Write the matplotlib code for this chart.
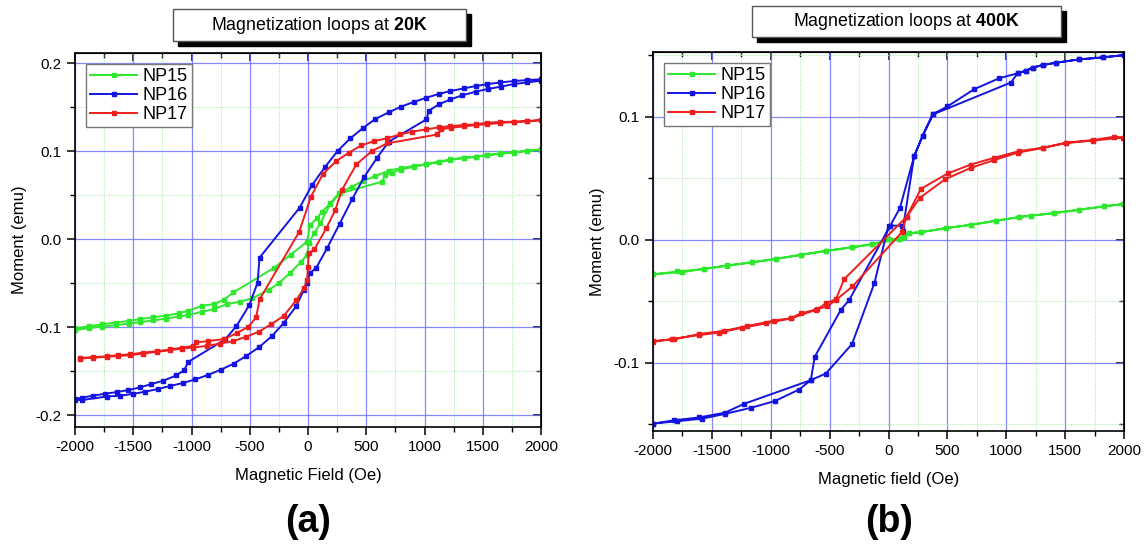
import matplotlib
matplotlib.use("Agg")
import matplotlib.pyplot as plt
from matplotlib.patches import Rectangle
from matplotlib.ticker import MultipleLocator
import numpy as np

plt.rcParams['font.family'] = ['Liberation Sans', 'DejaVu Sans']
plt.rcParams['mathtext.fontset'] = 'custom'
plt.rcParams['mathtext.rm'] = 'Liberation Sans'
plt.rcParams['mathtext.bf'] = 'Liberation Sans:bold'
plt.rcParams['axes.unicode_minus'] = False

# ---- 20K data (field in Oe, moment in emu); each loop = descending + ascending branch
h15_20k_dn = [2000, 1881, 1767, 1652, 1538, 1438, 1338, 1223, 1122, 1016, 907, 798, 692, 578, 470, 378, 263, 191, 120, 77, 19, -9,
              -150, -290, -640, -725, -811, -912, -1026, -1110, -1220, -1330, -1440, -1540, -1650, -1770, -1880, -2000]
m15_20k_dn = [.102, .1004, .0985, .0973, .0955, .0936, .0924, .0905, .0879, .0852, .083, .0807, .0777, .0716, .066, .0595, .0519, .0405,
              .031, .0235, .016, -.003, -.018, -.0326, -.0606, -.0693, -.0739, -.0761, -.0814, -.0845, -.087, -.089, -.091, -.093,
              -.095, -.097, -.099, -.1015]
h15_20k_up = [-2000, -1880, -1770, -1650, -1540, -1440, -1330, -1220, -1110, -1026, -912, -811, -696, -582, -481, -338, -252, -152,
              -60, -9, 5, 54, 105, 191, 277, 635, 664, 720, 800, 910, 1016, 1122, 1223, 1338, 1438, 1538, 1652, 1767, 1881, 2000]
m15_20k_up = [-.1035, -.1012, -.0995, -.098, -.096, -.0945, -.0925, -.0905, -.088, -.0864, -.0826, -.0799, -.0739, -.0712, -.0674,
              -.058, -.0504, -.0383, -.026, -.018, -.0049, .0064, .0178, .0398, .052, .0651, .0727, .0755, .079, .0822, .0848, .0873,
              .0898, .092, .0932, .0952, .097, .0983, .1, .1015]

h16_20k_dn = [2000, 1881, 1767, 1652, 1538, 1438, 1338, 1223, 1122, 1016, 907, 798, 692, 578, 472, 363, 254, 148, 33, -72, -416,
              -433, -505, -614, -711, -1026, -1063, -1132, -1241, -1350, -1441, -1542, -1642, -1742, -1843, -1943, -2000]
m16_20k_dn = [.1815, .1807, .1795, .178, .176, .1738, .1712, .1682, .1648, .1606, .1557, .1504, .1439, .1364, .1261, .1144, .1,
              .0822, .061, .0356, -.0212, -.0497, -.0754, -.0989, -.114, -.1395, -.149, -.155, -.161, -.165, -.1686, -.1716, -.1739,
              -.1758, -.178, -.1803, -.1818]
h16_20k_up = [-2000, -1943, -1728, -1613, -1504, -1398, -1289, -1183, -1074, -968, -859, -748, -639, -530, -418, -309, -209, -100,
              -37, -8, 14, 71, 163, 272, 378, 484, 593, 693, 1017, 1037, 1123, 1223, 1324, 1438, 1544, 1653, 1767, 1882, 2000]
m16_20k_up = [-.1825, -.183, -.179, -.178, -.176, -.1735, -.1704, -.167, -.1636, -.1595, -.1545, -.1485, -.1417, -.1329, -.1227,
              -.1102, -.0955, -.0761, -.058, -.0504, -.039, -.0326, -.0106, .0175, .0451, .0708, .0924, .1106, .136, .1458, .153,
              .1587, .1633, .1674, .1705, .1731, .1761, .178, .1799]

h17_20k_dn = [2000, 1881, 1767, 1652, 1538, 1438, 1338, 1223, 1122, 1010, 893, 793, 678, 569, 458, 349, 243, 128, 25, -75, -416,
              -445, -511, -612, -717, -860, -960, -990, -1084, -1184, -1298, -1413, -1528, -1628, -1728, -1843, -1957]
m17_20k_dn = [.1352, .134, .1333, .133, .1322, .1303, .1295, .1284, .1269, .1245, .122, .119, .1144, .1114, .1064, .098, .0886,
              .0739, .048, .0083, -.0686, -.089, -.0996, -.107, -.1136, -.116, -.1175, -.1215, -.1235, -.1255, -.1275, -.129,
              -.131, -.132, -.1333, -.1342, -.1352]
h17_20k_up = [-1957, -1843, -1728, -1628, -1528, -1413, -1298, -1184, -1084, -983, -868, -754, -645, -536, -424, -315, -209, -100,
              -37, -8, 0, 5, 54, 157, 234, 291, 415, 549, 678, 1110, 1139, 1230, 1340, 1440, 1540, 1650, 1767, 1881, 2000]
m17_20k_up = [-.1358, -.1348, -.1339, -.1328, -.132, -.1301, -.1282, -.1263, -.1244, -.1233, -.1214, -.1188, -.1162, -.1112,
              -.1055, -.0968, -.0874, -.0695, -.0562, -.0468, -.0316, -.0163, -.0117, .0121, .033, .0557, .0848, .1, .1087, .1188,
              .1245, .1265, .128, .1295, .1305, .132, .1328, .1338, .135]

# ---- 400K data
h15_400k_dn = [2000, 1833, 1620, 1408, 1209, 1110, 912, 700, 487, 274, 175, 113, 91, -136, -306, -532, -745, -957, -1155, -1368,
               -1566, -1750, -2000]
m15_400k_dn = [.0291, .0272, .0245, .0217, .0196, .0185, .0155, .0122, .0095, .006, .0054, .0016, .0005, -.0035, -.006, -.009,
               -.0122, -.0155, -.0182, -.0209, -.0236, -.0264, -.028]
h15_400k_up = [-2000, -1793, -1566, -1368, -1155, -957, -745, -532, -306, -136, 6, 91, 133, 175, 274, 487, 700, 912, 1110, 1209,
               1408, 1620, 1833, 1989]
m15_400k_up = [-.0282, -.0258, -.0238, -.0211, -.0184, -.0157, -.0124, -.0092, -.0062, -.0037, .0005, .0008, .0022, .0052, .0062,
               .0093, .012, .0153, .0183, .0195, .0215, .0243, .027, .0289]

h16_400k_dn = [2000, 1818, 1621, 1422, 1309, 1224, 1168, 1096, 941, 728, 501, 374, 289, 218, 97, 12, -334, -405, -626, -660, -1226,
               -1388, -1609, -1821, -2000]
m16_400k_dn = [.150, .1481, .1465, .1438, .1419, .1398, .1373, .1352, .1312, .1223, .1083, .1019, .0842, .0679, .0258, .0109, -.049,
               -.057, -.0951, -.1141, -.1333, -.1405, -.1444, -.1467, -.1494]
h16_400k_up = [-2000, -1793, -1581, -1388, -1170, -963, -759, -660, -532, -310, -120, 0, 113, 119, 218, 289, 380, 1040, 1096, 1168,
               1224, 1309, 1422, 1621, 1818, 2000]
m16_400k_up = [-.1494, -.1475, -.1453, -.1415, -.1366, -.131, -.1217, -.1141, -.1087, -.0848, -.0353, .0114, .0114, .0068, .068,
               .0842, .1019, .1277, .1352, .1373, .1398, .1419, .1438, .1465, .1481, .150]

h17_400k_dn = [2000, 1918, 1734, 1507, 1309, 1110, 898, 700, 502, 275, 153, -376, -447, -532, -603, -745, -830, -971, -1198, -1396,
               -1609, -1821, -2000]
m17_400k_dn = [.083, .0837, .081, .0788, .0747, .072, .0666, .0611, .0538, .0413, .0185, -.032, -.0484, -.0516, -.0565, -.0598,
               -.0638, -.0657, -.0701, -.074, -.0766, -.081, -.0823]
h17_400k_up = [-2000, -1835, -1609, -1439, -1240, -1042, -830, -617, -520, -447, -306, 113, 153, 266, 479, 700, 898, 1096, 1309,
               1507, 1734, 1989]
m17_400k_up = [-.083, -.0805, -.0775, -.0755, -.0715, -.068, -.064, -.057, -.054, -.049, -.038, .006, .0185, .034, .049, .0584,
               .0647, .0707, .0745, .0785, .0805, .0829]

samples = ["NP15", "NP16", "NP17"]
colors = ["#2ee82e", "#1414e0", "#ee1e1e"]

W, H = 1146, 546
fig = plt.figure(figsize=(W / 100, H / 100), dpi=100)


def px_box(x0, y0, w, h):
    # pixel box (top-left origin) -> figure fraction rect
    return [x0 / W, 1 - (y0 + h) / H, w / W, h / H]


def title_box(x0, y0, w, h, text):
    # black shadow, then white framed box on top
    sx, sy, sw, sh = px_box(x0 + 5, y0 + 5, w, h)
    fig.patches.append(Rectangle((sx, sy), sw, sh, transform=fig.transFigure, facecolor="black", edgecolor="black", zorder=1))
    bx, by, bw, bh = px_box(x0, y0, w, h)
    fig.patches.append(Rectangle((bx, by), bw, bh, transform=fig.transFigure, facecolor="white", edgecolor="#555555",
                                 linewidth=1, zorder=2))
    fig.text(bx + bw / 2, by + bh / 2, text, ha="center", va="center", fontsize=12.8, zorder=3)


def setup_axes(ax, ylim, ymajor):
    ax.set_xlim(-2000, 2000)
    ax.set_ylim(*ylim)
    ax.xaxis.set_major_locator(MultipleLocator(500))
    ax.xaxis.set_minor_locator(MultipleLocator(250))
    ax.yaxis.set_major_locator(MultipleLocator(ymajor))
    ax.yaxis.set_minor_locator(MultipleLocator(ymajor / 2))
    ax.grid(which="major", color="#6a6aff", linewidth=0.9, alpha=0.8)
    ax.grid(which="minor", color="#9be89b", linewidth=0.7, linestyle=":")
    ax.set_axisbelow(True)
    ax.tick_params(which="both", direction="out", top=False, right=False, labelsize=11)
    ax.tick_params(which="major", length=6, width=1.1)
    ax.tick_params(which="minor", length=3.5, width=1)
    # inward ticks on top and right
    top = ax.secondary_xaxis("top")
    top.xaxis.set_major_locator(MultipleLocator(500))
    top.xaxis.set_minor_locator(MultipleLocator(250))
    top.set_xticklabels([])
    right = ax.secondary_yaxis("right")
    right.yaxis.set_major_locator(MultipleLocator(ymajor))
    right.yaxis.set_minor_locator(MultipleLocator(ymajor / 2))
    right.set_yticklabels([])
    for sec in (top, right):
        sec.tick_params(which="major", direction="in", length=6, width=1.1)
        sec.tick_params(which="minor", direction="in", length=3.5, width=1)
    for sp in ax.spines.values():
        sp.set_linewidth(1.2)
    ax.yaxis.set_major_formatter(lambda v, p: f"{v:.1f}".replace("-0.0", "0.0"))


def draw_loops(ax, loops):
    for (hd, md, hu, mu), name, c in zip(loops, samples, colors):
        h = np.concatenate([hd, hu])
        m = np.concatenate([md, mu])
        ax.plot(h, m, color=c, linewidth=1.4, marker="s", markersize=3.2, label=name)
    leg = ax.legend(loc="upper left", fontsize=13, handlelength=2.6, handletextpad=0.3, borderpad=0.25,
                    labelspacing=0.1, borderaxespad=0.6, fancybox=False, framealpha=1)
    leg.get_frame().set_edgecolor("#777777")
    leg.get_frame().set_linewidth(1)


# (a) 20K
ax1 = fig.add_axes(px_box(75, 53, 466, 374))
setup_axes(ax1, (-0.2136, 0.2114), 0.1)
draw_loops(ax1, [(h15_20k_dn, m15_20k_dn, h15_20k_up, m15_20k_up),
                 (h16_20k_dn, m16_20k_dn, h16_20k_up, m16_20k_up),
                 (h17_20k_dn, m17_20k_dn, h17_20k_up, m17_20k_up)])
ax1.set_xlabel("Magnetic Field (Oe)", fontsize=12, labelpad=10)
ax1.set_ylabel("Moment (emu)", fontsize=12, labelpad=6)

# (b) 400K
ax2 = fig.add_axes(px_box(653, 52, 471, 379))
setup_axes(ax2, (-0.1554, 0.1525), 0.1)
draw_loops(ax2, [(h15_400k_dn, m15_400k_dn, h15_400k_up, m15_400k_up),
                 (h16_400k_dn, m16_400k_dn, h16_400k_up, m16_400k_up),
                 (h17_400k_dn, m17_400k_dn, h17_400k_up, m17_400k_up)])
ax2.set_xlabel("Magnetic field (Oe)", fontsize=12, labelpad=10)
ax2.set_ylabel("Moment (emu)", fontsize=12, labelpad=6)

title_box(173, 9, 293, 32, r"Magnetization loops at $\mathbf{20K}$")
title_box(752, 6, 309, 31, r"Magnetization loops at $\mathbf{400K}$")

fig.text(308 / W, 1 - 522 / H, "(a)", ha="center", va="center", fontsize=27, fontweight="bold")
fig.text(889 / W, 1 - 522 / H, "(b)", ha="center", va="center", fontsize=27, fontweight="bold")

fig.savefig("out.png", dpi=100)
